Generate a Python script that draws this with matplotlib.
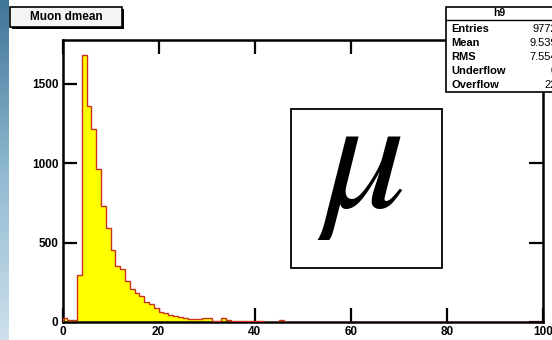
import numpy as np
import matplotlib
matplotlib.use("Agg")
import matplotlib.pyplot as plt
from matplotlib.patches import Rectangle

# -----------------------------------------------------
# histogram h9 : muon dmean, 100 bins on [0, 100]
# -----------------------------------------------------

counts = [25, 10, 10, 293, 1681, 1362, 1216, 960, 727, 591,
          455, 350, 335, 256, 210, 184, 161, 126, 115, 88,
          65, 55, 44, 38, 31, 25, 17, 17, 21, 23,
          23, 8, 8, 23, 10, 5, 5, 5, 5, 5,
          5, 5, 0, 0, 0, 10] + [0] * 54
edges = np.linspace(0, 100, 101)

x_ticks = [0, 20, 40, 60, 80, 100]
y_ticks = [0, 500, 1000, 1500]

title = "Muon dmean"
stat_name = "h9"
stat_labels = ["Entries", "Mean", "RMS", "Underflow", "Overflow"]
stat_values = ["9772", "9.539", "7.554", "0", "22"]

plt.rcParams["mathtext.fontset"] = "stix"

W, H = 552, 340
fig = plt.figure(figsize=(W / 100, H / 100), dpi=100)
fig.patch.set_facecolor("white")

# pixel helper for figure placement
def fx(px):
    return px / W

def fy(py):
    return 1 - py / H

# blue strip down the left edge
strip = fig.add_axes([0, 0, fx(9), 1])
grad = np.linspace(0, 1, 256).reshape(-1, 1)
cmap = matplotlib.colors.LinearSegmentedColormap.from_list(
    "edge", ["#3f7597", "#8fb8d0", "#cfe1ec"])
strip.imshow(grad, aspect="auto", cmap=cmap, extent=[0, 1, 1, 0])
strip.axis("off")

# -----------------------------------------------------
# main frame
# -----------------------------------------------------

ax = fig.add_axes([fx(62.5), fy(322), fx(543.3) - fx(62.5), fy(40) - fy(322)])

ax.stairs(counts, edges, fill=True, color="#ffff00", zorder=2)
ax.stairs(counts, edges, color="#c8321e", lw=1.0, zorder=3)

ax.set_xlim(0, 100)
ax.set_ylim(0, 1775)
ax.set_xticks(x_ticks)
ax.set_yticks(y_ticks)
ax.set_xticklabels([str(v) for v in x_ticks])
ax.set_yticklabels([str(v) for v in y_ticks])
ax.tick_params(direction="in", length=10, width=1.6,
               top=True, right=True, labelsize=8.5, pad=3)
for lab in ax.get_xticklabels() + ax.get_yticklabels():
    lab.set_fontfamily("Liberation Sans")
    lab.set_fontweight("bold")
for sp in ax.spines.values():
    sp.set_linewidth(1.8)
ax.set_facecolor("white")

# -----------------------------------------------------
# overlay in pixel coordinates for the text boxes
# -----------------------------------------------------

ov = fig.add_axes([0, 0, 1, 1], facecolor="none")
ov.set_xlim(0, W)
ov.set_ylim(H, 0)
ov.axis("off")

# title box with shadow
ov.add_patch(Rectangle((12, 9), 112, 20, facecolor="black", zorder=4))
ov.add_patch(Rectangle((10, 7), 112, 20, facecolor="#f4f4f4",
                       edgecolor="black", lw=1.2, zorder=5))
ov.text(66, 17.5, title, ha="center", va="center", fontsize=8.5,
        fontweight="bold", family="Liberation Sans", zorder=6)

# stats box
ov.add_patch(Rectangle((446, 7), 120, 85, facecolor="white",
                       edgecolor="black", lw=1.2, zorder=5))
ov.plot([446, 566], [20, 20], color="black", lw=1.0, zorder=6)
ov.text(499, 13.5, stat_name, ha="center", va="center", fontsize=7.5,
        fontweight="bold", family="Liberation Sans", zorder=6)
for i, (lab, val) in enumerate(zip(stat_labels, stat_values)):
    yy = 28.5 + i * 14
    ov.text(451, yy, lab, ha="left", va="center", fontsize=8,
            fontweight="bold", family="Liberation Sans", zorder=6)
    ov.text(557, yy, val, ha="right", va="center", fontsize=8,
            family="Liberation Sans", zorder=6)

# mu symbol box
ov.add_patch(Rectangle((291, 109), 151, 159, facecolor="white",
                       edgecolor="black", lw=1.3, zorder=5))
ov.text(360, 163, r"$\mu$", ha="center", va="center", fontsize=118,
        zorder=6)

fig.savefig("out.png", dpi=100)
